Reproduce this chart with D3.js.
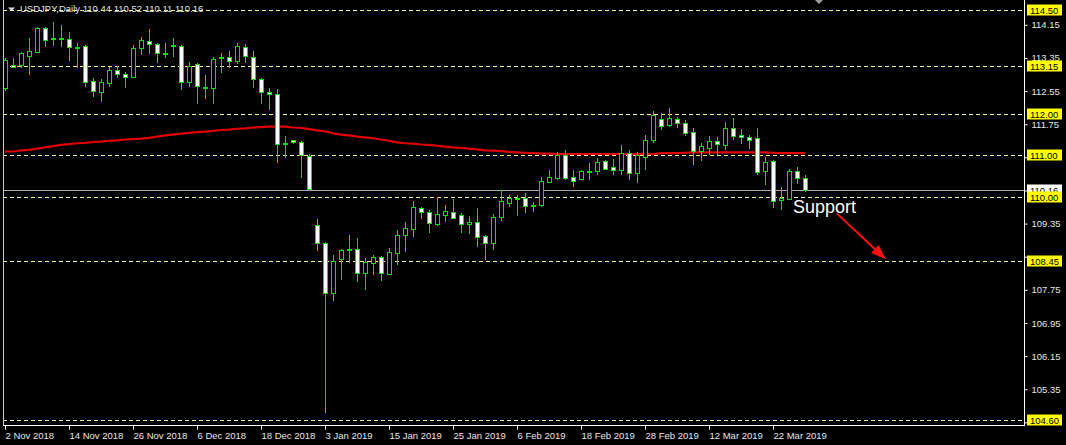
<!DOCTYPE html>
<html>
<head>
<meta charset="utf-8">
<script src="https://cdn.jsdelivr.net/npm/d3@7"></script>
<style>
  html, body { margin: 0; padding: 0; background: #000; }
  svg { display: block; }
</style>
</head>
<body>
<svg id="chart" width="1066" height="445"></svg>
<script>
// ---------------- DATA ----------------
const symbolTitle = "USDJPY,Daily 110.44 110.52 110.11 110.16";

const dates = [
  "2018-11-02","2018-11-05","2018-11-06","2018-11-07","2018-11-08","2018-11-09","2018-11-12","2018-11-13","2018-11-14","2018-11-15",
  "2018-11-16","2018-11-19","2018-11-20","2018-11-21","2018-11-22","2018-11-23","2018-11-26","2018-11-27","2018-11-28","2018-11-29",
  "2018-11-30","2018-12-03","2018-12-04","2018-12-05","2018-12-06","2018-12-07","2018-12-10","2018-12-11","2018-12-12","2018-12-13",
  "2018-12-14","2018-12-17","2018-12-18","2018-12-19","2018-12-20","2018-12-21","2018-12-26","2018-12-27","2018-12-28","2019-01-02",
  "2019-01-03","2019-01-04","2019-01-07","2019-01-08","2019-01-09","2019-01-10","2019-01-11","2019-01-14","2019-01-15","2019-01-16",
  "2019-01-17","2019-01-18","2019-01-21","2019-01-22","2019-01-23","2019-01-24","2019-01-25","2019-01-28","2019-01-29","2019-01-30",
  "2019-01-31","2019-02-01","2019-02-04","2019-02-05","2019-02-06","2019-02-07","2019-02-08","2019-02-11","2019-02-12","2019-02-13",
  "2019-02-14","2019-02-15","2019-02-18","2019-02-19","2019-02-20","2019-02-21","2019-02-22","2019-02-25","2019-02-26","2019-02-27",
  "2019-02-28","2019-03-01","2019-03-04","2019-03-05","2019-03-06","2019-03-07","2019-03-08","2019-03-11","2019-03-12","2019-03-13",
  "2019-03-14","2019-03-15","2019-03-18","2019-03-19","2019-03-20","2019-03-21","2019-03-22","2019-03-25","2019-03-26","2019-03-27",
  "2019-03-28"
];

const open = [
  112.62,113.18,113.18,113.40,113.50,114.07,113.80,113.82,113.80,113.61,
  113.64,112.79,112.53,112.75,113.06,112.96,112.88,113.58,113.77,113.69,
  113.47,113.65,113.65,112.78,113.20,112.66,112.62,113.36,113.38,113.28,
  113.61,113.37,112.84,112.53,112.47,111.27,111.36,111.33,110.99,109.31,
  108.87,107.67,108.50,108.72,108.73,108.16,108.41,108.54,108.13,108.65,
  109.07,109.23,109.72,109.64,109.34,109.56,109.62,109.56,109.33,109.38,
  109.04,108.87,109.50,109.85,109.96,109.97,109.78,109.80,110.36,110.44,
  111.01,110.47,110.43,110.61,110.62,110.86,110.71,110.64,111.05,110.56,
  110.96,111.37,111.87,111.73,111.87,111.77,111.55,111.10,111.18,111.34,
  111.25,111.65,111.49,111.43,111.41,110.62,110.87,109.92,109.94,110.62,
  110.44
];
const high = [
  113.34,113.35,113.50,113.82,114.10,114.10,114.21,114.15,113.98,113.70,
  113.66,112.87,112.83,113.14,113.15,113.02,113.66,113.85,114.04,113.72,
  113.72,113.82,113.66,113.24,113.22,112.94,113.37,113.46,113.52,113.70,
  113.69,113.52,112.87,112.62,112.60,111.46,111.37,111.34,111.03,109.46,
  108.90,108.59,108.73,109.07,108.99,108.51,108.59,108.57,108.75,109.19,
  109.40,109.90,109.76,109.69,110.00,109.80,109.94,109.60,109.53,109.73,
  109.07,109.57,110.16,110.04,110.04,110.08,109.88,110.47,110.64,111.09,
  111.13,110.64,110.64,110.82,110.94,110.88,110.91,111.25,111.13,111.09,
  111.49,112.07,112.01,112.13,111.92,111.85,111.65,111.29,111.46,111.45,
  111.81,111.89,111.63,111.49,111.67,110.95,110.88,110.24,110.68,110.71,
  110.52
];
const low = [
  112.55,113.10,113.10,112.94,113.46,113.62,113.65,113.62,113.28,113.10,
  112.64,112.41,112.29,112.64,112.86,112.63,112.86,113.42,113.44,113.23,
  113.34,113.38,112.58,112.64,112.23,112.37,112.24,112.99,113.11,113.20,
  113.22,112.62,112.23,112.09,110.81,110.93,111.28,110.44,110.16,108.69,
  104.77,107.49,107.99,108.41,107.95,107.75,108.11,107.97,108.11,108.35,
  108.67,109.03,109.46,109.13,109.30,109.40,109.46,109.13,109.10,108.79,
  108.47,108.71,109.42,109.76,109.54,109.60,109.64,109.74,110.34,110.40,
  110.40,110.24,110.40,110.40,110.52,110.66,110.52,110.52,110.40,110.34,
  110.64,111.29,111.61,111.69,111.65,111.46,110.76,110.87,111.01,111.01,
  111.13,111.37,111.27,111.14,110.52,110.28,109.72,109.68,109.92,110.31,
  110.11
];
const close = [
  113.30,113.14,113.46,113.52,114.07,113.78,113.82,113.81,113.61,113.62,
  112.78,112.55,112.77,113.06,112.96,112.90,113.58,113.78,113.68,113.46,
  113.48,113.66,112.78,113.16,112.67,112.62,113.32,113.37,113.28,113.64,
  113.40,112.84,112.52,112.47,111.27,111.29,111.32,111.01,110.18,108.87,
  107.67,108.44,108.71,108.73,108.15,108.42,108.54,108.15,108.66,109.07,
  109.24,109.74,109.64,109.36,109.58,109.65,109.49,109.33,109.38,109.02,
  108.87,109.50,109.89,109.96,109.97,109.78,109.80,110.38,110.47,111.01,
  110.46,110.39,110.62,110.60,110.84,110.68,110.64,111.05,110.58,111.01,
  111.37,111.97,111.71,111.89,111.77,111.54,111.11,111.22,111.34,111.26,
  111.65,111.47,111.43,111.37,110.60,110.84,109.90,109.96,110.62,110.44,
  110.16
];
// moving average (red line)
const movingAvg = [
  111.09,111.09,111.12,111.13,111.16,111.19,111.22,111.25,111.27,111.29,
  111.30,111.32,111.33,111.35,111.36,111.38,111.39,111.40,111.42,111.45,
  111.48,111.50,111.52,111.54,111.56,111.57,111.59,111.61,111.62,111.64,
  111.65,111.67,111.68,111.69,111.69,111.69,111.67,111.66,111.63,111.60,
  111.58,111.53,111.50,111.48,111.45,111.43,111.41,111.38,111.35,111.31,
  111.29,111.28,111.26,111.25,111.23,111.21,111.19,111.18,111.16,111.14,
  111.12,111.11,111.10,111.08,111.07,111.06,111.05,111.04,111.04,111.03,
  111.03,111.03,111.03,111.03,111.03,111.03,111.03,111.03,111.03,111.03,
  111.03,111.03,111.05,111.05,111.05,111.06,111.07,111.07,111.07,111.07,
  111.07,111.07,111.07,111.07,111.07,111.07,111.06,111.05,111.05,111.05,
  111.05
];

const levelPrices = [114.50, 113.15, 112.00, 111.00, 110.00, 108.45, 104.60];
const bidPrice = 110.16;
const yTickValues = [114.15, 113.35, 112.55, 111.75, 110.95, 110.15, 109.35, 108.55, 107.75, 106.95, 106.15, 105.35, 104.55];
const yTickHidden = [110.95, 110.15, 108.55, 104.55]; // covered by price boxes
const xTickDates = ["2018-11-02","2018-11-14","2018-11-26","2018-12-06","2018-12-18","2019-01-03","2019-01-15","2019-01-25","2019-02-06","2019-02-18","2019-02-28","2019-03-12","2019-03-22"];
const xTickLabels = ["2 Nov 2018","14 Nov 2018","26 Nov 2018","6 Dec 2018","18 Dec 2018","3 Jan 2019","15 Jan 2019","25 Jan 2019","6 Feb 2019","18 Feb 2019","28 Feb 2019","12 Mar 2019","22 Mar 2019"];

// annotation (bar index, price)
const annotationText = "Support";
const annotationAt = [98.5, 109.61];
const arrowFrom = [104.0, 109.59];
const arrowTo = [110.1, 108.49];

// ---------------- DRAW ----------------
const W = 1066, H = 445;
const plotL = 3, plotR = 1024, plotT = 0, plotB = 425;
const GREEN = "#00e600", FONT = "'Liberation Sans', Arial, sans-serif";

const svg = d3.select("#chart");
svg.append("rect").attr("width", W).attr("height", H).attr("fill", "#000");

const x = d3.scaleLinear().domain([0, dates.length - 1]).range([5, 805]);
const y = d3.scaleLinear().domain([104.6, 114.5]).range([420.3, 10.3]);

svg.append("defs").append("clipPath").attr("id", "plot")
  .append("rect").attr("x", plotL).attr("y", plotT).attr("width", plotR - plotL).attr("height", plotB - plotT);

const plot = svg.append("g").attr("clip-path", "url(#plot)");

// dashed level lines
plot.selectAll("line.level").data(levelPrices).join("line")
  .attr("class", "level")
  .attr("x1", plotL).attr("x2", plotR)
  .attr("y1", d => Math.round(y(d)) + 0.5).attr("y2", d => Math.round(y(d)) + 0.5)
  .attr("stroke", "#f4f48a").attr("stroke-width", 1).attr("stroke-dasharray", "4,3");

// bid line
plot.append("line")
  .attr("x1", plotL).attr("x2", plotR)
  .attr("y1", Math.round(y(bidPrice)) + 0.5).attr("y2", Math.round(y(bidPrice)) + 0.5)
  .attr("stroke", "#a8a8b0").attr("stroke-width", 1);

// moving average
plot.append("path")
  .datum(movingAvg)
  .attr("fill", "none").attr("stroke", "#e00000").attr("stroke-width", 2.2)
  .attr("d", d3.line().x((d, i) => x(i)).y(d => y(d)));

// candles
const idx = d3.range(dates.length);
const cg = plot.append("g").attr("shape-rendering", "crispEdges");
cg.selectAll("line.wick").data(idx).join("line")
  .attr("class", "wick")
  .attr("x1", i => Math.round(x(i)) + 0.5).attr("x2", i => Math.round(x(i)) + 0.5)
  .attr("y1", i => y(high[i])).attr("y2", i => y(low[i]))
  .attr("stroke", GREEN).attr("stroke-width", 1);
cg.selectAll("rect.body").data(idx).join("rect")
  .attr("class", "body")
  .attr("x", i => Math.round(x(i)) - 2 + 0.5)
  .attr("width", 4)
  .attr("y", i => Math.round(y(Math.max(open[i], close[i]))) + 0.5)
  .attr("height", i => Math.max(1, Math.round(y(Math.min(open[i], close[i]))) - Math.round(y(Math.max(open[i], close[i])))))
  .attr("fill", i => close[i] >= open[i] ? "#000" : "#f4fff4")
  .attr("stroke", GREEN).attr("stroke-width", 1);

// annotation
svg.append("text")
  .attr("x", x(annotationAt[0])).attr("y", y(annotationAt[1]))
  .attr("fill", "#ffffff").attr("font-family", FONT).attr("font-size", 18)
  .text(annotationText);
const ax1 = x(arrowFrom[0]), ay1 = y(arrowFrom[1]), ax2 = x(arrowTo[0]), ay2 = y(arrowTo[1]);
const ang = Math.atan2(ay2 - ay1, ax2 - ax1);
const headLen = 15, headW = 5.5;
const bx = ax2 - headLen * Math.cos(ang), by = ay2 - headLen * Math.sin(ang);
svg.append("line").attr("x1", ax1).attr("y1", ay1).attr("x2", bx).attr("y2", by)
  .attr("stroke", "#ff1010").attr("stroke-width", 2);
svg.append("path")
  .attr("d", `M${ax2},${ay2}L${bx + headW * Math.sin(ang)},${by - headW * Math.cos(ang)}L${bx - headW * Math.sin(ang)},${by + headW * Math.cos(ang)}Z`)
  .attr("fill", "#ff1010");

// frame
svg.append("line").attr("x1", plotL + 0.5).attr("x2", plotL + 0.5).attr("y1", 0).attr("y2", plotB).attr("stroke", "#c8c8c8");
svg.append("line").attr("x1", plotL).attr("x2", plotR + 1).attr("y1", plotB + 0.5).attr("y2", plotB + 0.5).attr("stroke", "#ffffff");
svg.append("line").attr("x1", plotR + 0.5).attr("x2", plotR + 0.5).attr("y1", 0).attr("y2", plotB + 1).attr("stroke", "#ffffff");

// right axis
const yAxis = svg.append("g").attr("transform", `translate(${plotR + 0.5},0)`)
  .call(d3.axisRight(y).tickValues(yTickValues).tickSize(3).tickPadding(4)
    .tickFormat(d => yTickHidden.includes(d) ? "" : d3.format(".2f")(d)));
yAxis.select(".domain").remove();
yAxis.selectAll("line").attr("stroke", "#ffffff");
yAxis.selectAll("text").attr("fill", "#e6e6e6").attr("font-family", FONT).attr("font-size", 9.5);

// bottom axis
const xTickIdx = xTickDates.map(d => dates.indexOf(d));
const xAxis = svg.append("g").attr("transform", `translate(0,${plotB + 0.5})`)
  .call(d3.axisBottom(x).tickValues(xTickIdx).tickSize(4).tickPadding(3).tickFormat((d, i) => xTickLabels[i]));
xAxis.select(".domain").remove();
xAxis.selectAll("line").attr("stroke", "#ffffff");
xAxis.selectAll("text").attr("fill", "#e6e6e6").attr("font-family", FONT).attr("font-size", 9.5)
  .attr("text-anchor", "start").attr("x", 0);

// bid price box
const bidG = svg.append("g").attr("transform", `translate(${plotR + 3},${Math.round(y(bidPrice))})`);
bidG.append("rect").attr("x", 0).attr("y", -5.5).attr("width", 35).attr("height", 11).attr("fill", "#ffffff");
bidG.append("text").attr("x", 3).attr("y", 4).attr("fill", "#000").attr("font-family", FONT).attr("font-size", 9.5).text(bidPrice.toFixed(2));

// level boxes
const lvlG = svg.selectAll("g.lvl").data(levelPrices).join("g")
  .attr("class", "lvl")
  .attr("transform", d => `translate(${plotR + 3},${Math.round(y(d))})`);
lvlG.append("rect").attr("x", 0).attr("y", -5.5).attr("width", 35).attr("height", 11).attr("fill", "#ffff00");
lvlG.append("text").attr("x", 3).attr("y", 4).attr("fill", "#000").attr("font-family", FONT).attr("font-size", 9.5)
  .text(d => d.toFixed(2));

// title
svg.append("path").attr("d", "M8,7.5L15,7.5L11.5,11Z").attr("fill", "#e0e0e0");
svg.append("text").attr("x", 20).attr("y", 12).attr("fill", "#e0e0e0")
  .attr("font-family", FONT).attr("font-size", 9.5).text(symbolTitle);

// chart shift marker
svg.append("path").attr("d", "M815,0L823,0L819,4Z").attr("fill", "#a0a0a0");
</script>
</body>
</html>
